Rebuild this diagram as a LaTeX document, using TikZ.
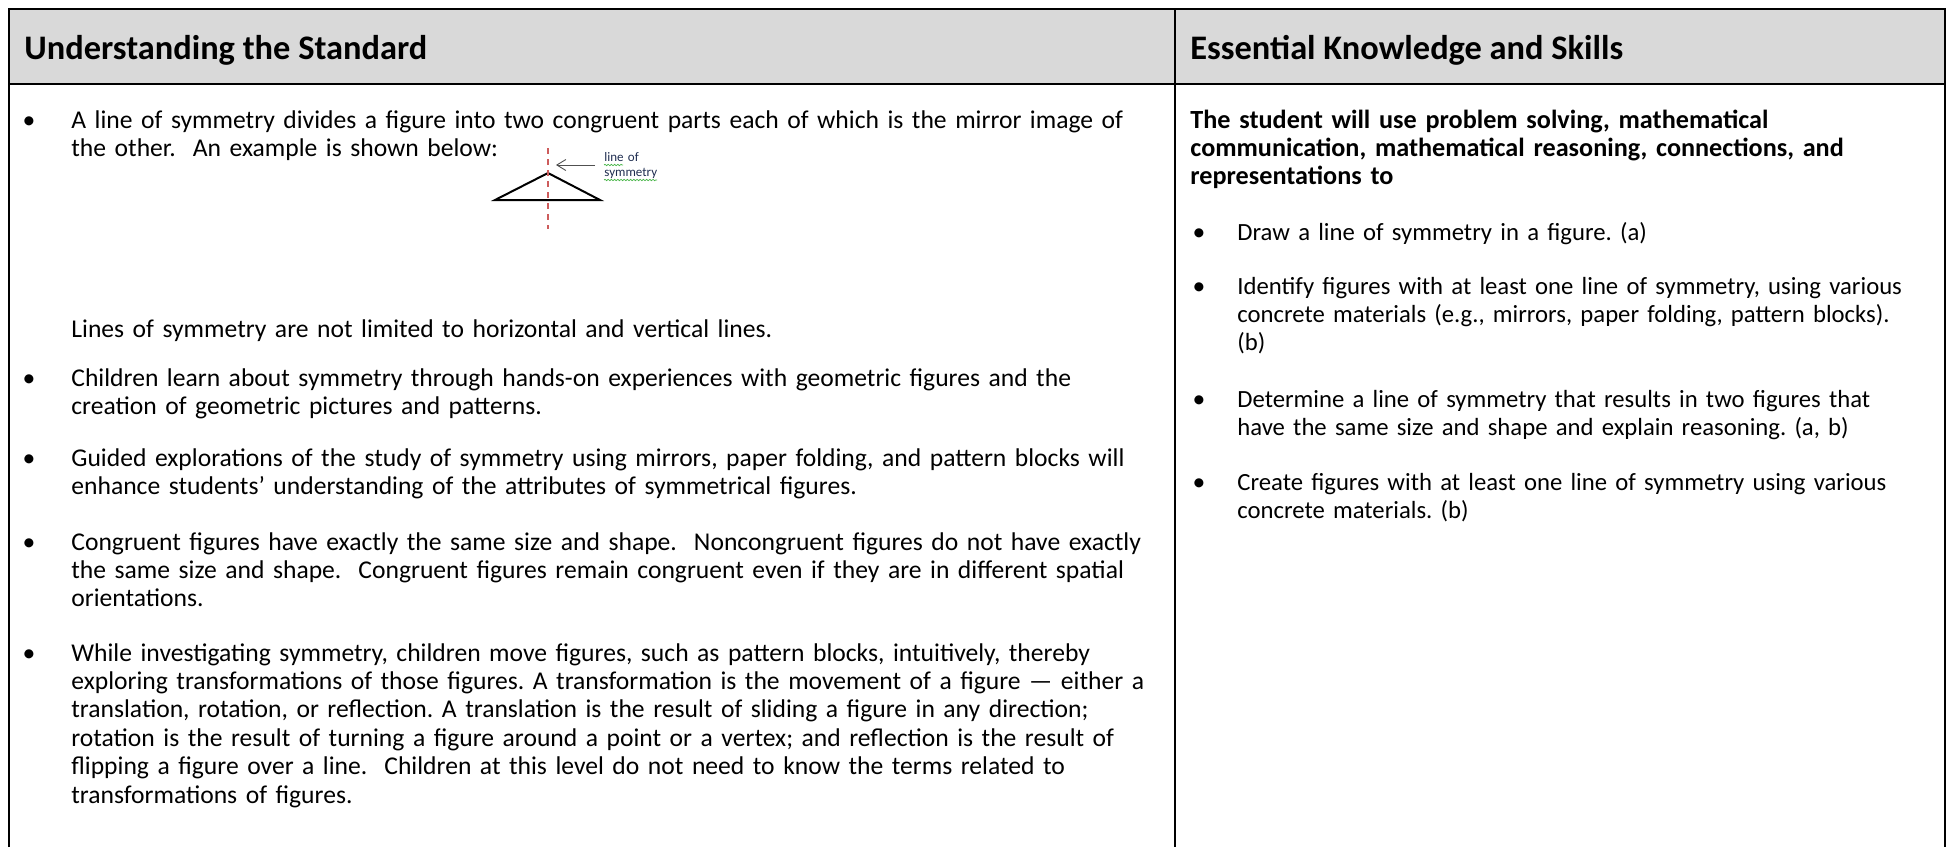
\documentclass[tikz,border=0pt]{standalone}
\usepackage{fontspec}
\setmainfont{Carlito}
\frenchspacing
\usetikzlibrary{positioning,arrows.meta,decorations.pathmorphing}
\definecolor{hdrgray}{RGB}{217,217,217}
\definecolor{symred}{RGB}{205,92,92}
\definecolor{notegray}{RGB}{80,80,80}
\definecolor{notenavy}{RGB}{31,45,80}
\definecolor{spellgreen}{RGB}{70,180,70}
\tikzstyle{tableline} = [line width=1.3pt, black]
\tikzstyle{header} = [anchor=base west, inner sep=0pt, font=\fontsize{17.2}{20}\selectfont\bfseries]
\tikzstyle{para} = [anchor=base west, inner sep=0pt, text width=590pt, align=left, font=\fontsize{12.8}{14.2}\selectfont]
\tikzstyle{skill} = [para, text width=360pt, font=\fontsize{12.35}{14.2}\selectfont]
\tikzstyle{dot} = [anchor=base, inner sep=0pt, font=\fontsize{12.8}{14.2}\selectfont]
\tikzstyle{note} = [anchor=base west, inner sep=0pt, text width=40pt, align=left, text=notenavy, font=\fontsize{6.5}{7.5}\selectfont]
\tikzstyle{spell} = [spellgreen, line width=0.35pt, decorate, decoration={snake, amplitude=0.35pt, segment length=1.6pt}]

\begin{document}
\begin{tikzpicture}[x=0.5pt, y=-0.5pt]
\useasboundingbox (0,0) rectangle (1946,847);

% Table frame
\fill[hdrgray] (9,9) rectangle (1945,84);
\draw[tableline] (9,847) -- (9,9) -- (1945,9) -- (1945,847);
\draw[tableline] (9,84) -- (1945,84);
\draw[tableline] (1175,9) -- (1175,847);

% Headers
\node (understanding) [header] at (24,59) {Understanding the Standard};
\node (essential) [header] at (1190,59) {Essential Knowledge and Skills};

% Left column
\node (dot1) [dot] at (29,128) {\textbullet};
\node (divides) [para] at (71,128) {A line of symmetry divides a figure into two congruent parts each of which is the mirror image of\\the other.\ \ An example is shown below:};

% Example figure
\coordinate (apex) at (548,173);
\coordinate (baseL) at (495,200);
\coordinate (baseR) at (600,200);
\draw[line width=1pt, line join=miter] (baseL) -- (apex) -- (baseR) -- cycle;
\coordinate (axisTop) at (548,148);
\coordinate (axisBot) at (548,229);
\draw[symred, line width=0.9pt, dash pattern=on 3pt off 2.5pt] (axisTop) -- (axisBot);
\node (symnote) [note] at (604,161) {line of\\symmetry};
\coordinate (tail) at (595,165);
\coordinate (tip) at (556,165);
\draw[notegray, line width=0.45pt, -{Straight Barb[length=4.5pt, width=5.5pt, line width=0.45pt]}] (tail) -- (tip);
\draw[spell] (604,165) -- (623,165);
\draw[spell] (604,180) -- (657,180);

\node (notlimited) [para] at (71,337) {Lines of symmetry are not limited to horizontal and vertical lines.};

\node (dot2) [dot] at (29,386) {\textbullet};
\node (handson) [para] at (71,386) {Children learn about symmetry through hands-on experiences with geometric figures and the\\creation of geometric pictures and patterns.};

\node (dot3) [dot] at (29,466) {\textbullet};
\node (guided) [para] at (71,466) {Guided explorations of the study of symmetry using mirrors, paper folding, and pattern blocks will\\enhance students’ understanding of the attributes of symmetrical figures.};

\node (dot4) [dot] at (29,550) {\textbullet};
\node (congruent) [para] at (71,550) {Congruent figures have exactly the same size and shape.\ \ Noncongruent figures do not have exactly\\the same size and shape.\ \ Congruent figures remain congruent even if they are in different spatial\\orientations.};

\node (dot5) [dot] at (29,661) {\textbullet};
\node (investigate) [para] at (71,661) {While investigating symmetry, children move figures, such as pattern blocks, intuitively, thereby\\exploring transformations of those figures. A transformation is the movement of a figure — either a\\translation, rotation, or reflection. A translation is the result of sliding a figure in any direction;\\rotation is the result of turning a figure around a point or a vertex; and reflection is the result of\\flipping a figure over a line.\ \ Children at this level do not need to know the terms related to\\transformations of figures.};

% Right column
\node (studentwill) [skill, font=\fontsize{13.1}{14.2}\selectfont\bfseries] at (1190,128) {The student will use problem solving, mathematical\\communication, mathematical reasoning, connections, and\\representations to};

\node (dot6) [dot] at (1199,240) {\textbullet};
\node (drawline) [skill] at (1237,240) {Draw a line of symmetry in a figure. (a)};

\node (dot7) [dot] at (1199,294) {\textbullet};
\node (identify) [skill] at (1237,294) {Identify figures with at least one line of symmetry, using various\\concrete materials (e.g., mirrors, paper folding, pattern blocks).\\(b)};

\node (dot8) [dot] at (1199,407) {\textbullet};
\node (determine) [skill] at (1237,407) {Determine a line of symmetry that results in two figures that\\have the same size and shape and explain reasoning. (a, b)};

\node (dot9) [dot] at (1199,490) {\textbullet};
\node (create) [skill] at (1237,490) {Create figures with at least one line of symmetry using various\\concrete materials. (b)};
\end{tikzpicture}
\end{document}
